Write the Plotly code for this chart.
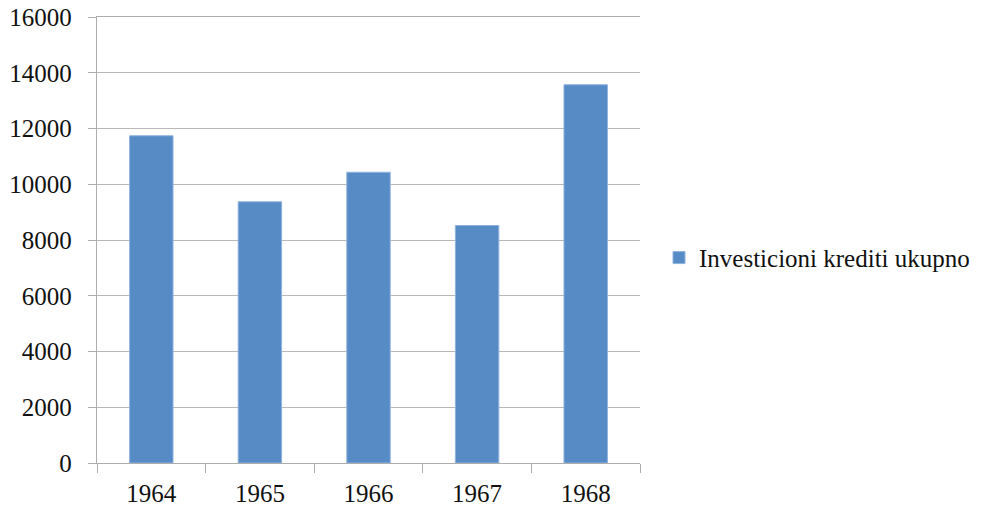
import plotly.graph_objects as go

years = ["1964", "1965", "1966", "1967", "1968"]
values = [11740, 9370, 10430, 8520, 13570]
series_name = "Investicioni krediti ukupno"
y_ticks = [0, 2000, 4000, 6000, 8000, 10000, 12000, 14000, 16000]

font_family = "Liberation Serif"
axis_gray = "#ADADAD"

fig = go.Figure()
fig.add_trace(go.Bar(
    x=years, y=values, name=series_name,
    marker=dict(color="#568BC6", line=dict(color="#8FB3DD", width=1)),
    showlegend=True,
))

fig.update_layout(
    width=995, height=506,
    margin=dict(l=97, r=355, t=17, b=43, autoexpand=False),
    paper_bgcolor="white", plot_bgcolor="white",
    bargap=0.6,
    font=dict(family=font_family, size=25, color="#111111"),
    legend=dict(x=1.035, y=0.46, xanchor="left", yanchor="middle",
                font=dict(family=font_family, size=25, color="#111111"),
                bgcolor="rgba(0,0,0,0)", itemwidth=30),
    xaxis=dict(
        type="category", tickson="boundaries", ticks="outside", ticklen=9,
        tickcolor=axis_gray, tickwidth=1.3,
        showline=True, linecolor=axis_gray, linewidth=1.3, mirror=True,
        showgrid=False, ticklabelstandoff=8, automargin=False,
    ),
    yaxis=dict(
        range=[0, 16000], tickvals=y_ticks,
        ticktext=[str(v) for v in y_ticks],
        ticks="outside", ticklen=8, tickcolor=axis_gray, tickwidth=1.3,
        showline=True, linecolor=axis_gray, linewidth=1.3,
        showgrid=True, gridcolor="#B8B8B8", gridwidth=1.3,
        zeroline=False, ticklabelstandoff=11, automargin=False,
        ticklabeloverflow="allow",
    ),
)

fig.write_html("out.html",
               config={"displayModeBar": False},
               post_script="document.body.style.margin='0px';document.body.style.overflow='hidden';")
